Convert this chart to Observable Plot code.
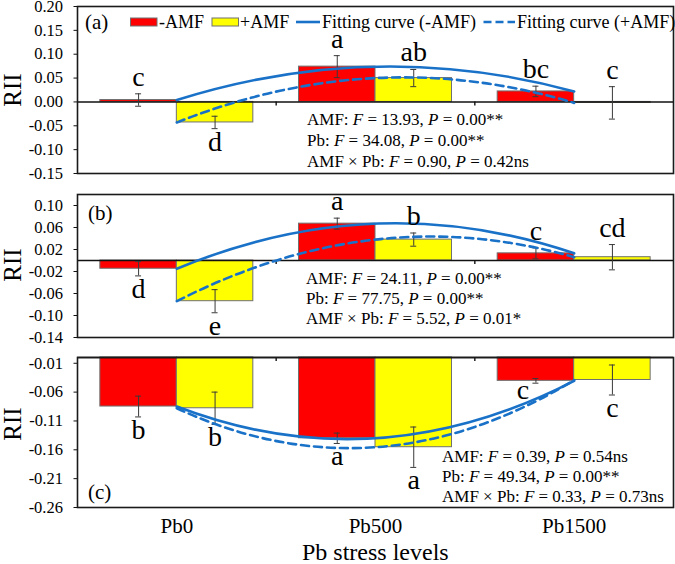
<!DOCTYPE html>
<html><head><meta charset="utf-8">
<script src="https://cdn.jsdelivr.net/npm/d3@7"></script>
<script src="https://cdn.jsdelivr.net/npm/@observablehq/plot@0.6"></script>
<style>
body{margin:0;background:#fff;font-family:"Liberation Serif","Times New Roman",serif;color:#000;}
#wrap{position:relative;width:675px;height:564px;overflow:hidden;background:#fff;}
#wrap svg{position:absolute;left:0;}
.ov{position:absolute;white-space:nowrap;}
.rii{font-size:25px;line-height:25px;transform:translate(-50%,-50%) rotate(-90deg);}
.stats{font-size:17px;}
.leg{font-size:18px;line-height:20px;}
.tag{font-size:21px;line-height:22px;}
</style></head>
<body><div id="wrap"></div>
<script>
// ---------- data ----------
const levels = ["Pb0", "Pb500", "Pb1500"];
const treatments = ["-AMF", "+AMF"];

// Panel (a)
const riiA_noAMF = [0.004, 0.074, 0.022];
const riiA_AMF = [-0.043, 0.050, -0.002];
const errA_noAMF = [0.013, 0.023, 0.011];
const errA_AMF = [0.013, 0.018, 0.034];
const lettersA_noAMF = ["c", "a", "bc"];
const lettersA_AMF = ["d", "ab", "c"];
const ticksA = [-0.15, -0.10, -0.05, 0.00, 0.05, 0.10, 0.15, 0.20];
const statsA = [["AMF", "13.93", "0.00**"], ["Pb", "34.08", "0.00**"], ["AMF × Pb", "0.90", "0.42ns"]];

// Panel (b)
const riiB_noAMF = [-0.015, 0.067, 0.013];
const riiB_AMF = [-0.074, 0.038, 0.006];
const errB_noAMF = [0.013, 0.010, 0.010];
const errB_AMF = [0.021, 0.012, 0.023];
const lettersB_noAMF = ["d", "a", "c"];
const lettersB_AMF = ["e", "b", "cd"];
const ticksB = [-0.14, -0.10, -0.06, -0.02, 0.02, 0.06, 0.10];
const statsB = [["AMF", "24.11", "0.00**"], ["Pb", "77.75", "0.00**"], ["AMF × Pb", "5.52", "0.01*"]];

// Panel (c)
const riiC_noAMF = [-0.085, -0.140, -0.0405];
const riiC_AMF = [-0.088, -0.1555, -0.039];
const errC_noAMF = [0.018, 0.009, 0.004];
const errC_AMF = [0.028, 0.035, 0.026];
const lettersC_noAMF = ["b", "a", "c"];
const lettersC_AMF = ["b", "a", "c"];
const ticksC = [-0.26, -0.21, -0.16, -0.11, -0.06, -0.01];
const statsC = [["AMF", "0.39", "0.54ns"], ["Pb", "49.34", "0.00**"], ["AMF × Pb", "0.33", "0.73ns"]];

const xTitle = "Pb stress levels";
const yTitle = "RII";

// ---------- style ----------
const RED = "#ff0000", YELLOW = "#ffff00", BLUE = "#1a72c8";
const BW = 0.385; // bar width as fraction of a category
const FONT = "Liberation Serif, Times New Roman, serif";

// quadratic fitting curve through three points (parabola via quadratic Bezier)
function curveParabola(context) {
  let pts = [];
  return {
    areaStart() {}, areaEnd() {},
    lineStart() { pts = []; },
    point(x, y) { pts.push([+x, +y]); },
    lineEnd() {
      if (pts.length === 3) {
        const [p0, p1, p2] = pts;
        context.moveTo(p0[0], p0[1]);
        context.quadraticCurveTo(2 * p1[0] - (p0[0] + p2[0]) / 2, 2 * p1[1] - (p0[1] + p2[1]) / 2, p2[0], p2[1]);
      } else if (pts.length) {
        context.moveTo(pts[0][0], pts[0][1]);
        for (const p of pts.slice(1)) context.lineTo(p[0], p[1]);
      }
    }
  };
}

function makePanel(cfg) {
  const rows = [];
  levels.forEach((lv, i) => {
    rows.push({i, t: treatments[0], v: cfg.noAMF[i], e: cfg.errNo[i], L: cfg.lettersNo[i], x1: i - BW, x2: i, c: i - BW / 2, fill: RED});
    rows.push({i, t: treatments[1], v: cfg.AMF[i], e: cfg.errAMF[i], L: cfg.lettersAMF[i], x1: i, x2: i + BW, c: i + BW / 2, fill: YELLOW});
  });
  const shifted = cfg.sideLabel ? rows.filter(d => d.t === cfg.sideLabel.t && d.i === cfg.sideLabel.i) : [];
  const rest = rows.filter(d => !shifted.includes(d));
  const above = rest.filter(d => d.v + d.e > 0);
  const below = rest.filter(d => d.v + d.e <= 0);
  const marks = [
    Plot.rectY(rows, {x1: "x1", x2: "x2", y1: 0, y2: "v", fill: "fill", stroke: "#707070", strokeWidth: 1}),
    Plot.ruleY([0], {stroke: "#111", strokeWidth: 1.4}),
    Plot.ruleX([0.5, 1.5], {x: d => d, y1: 0, y2: 0, insetBottom: -4, stroke: "#111", strokeWidth: 1.4}),
    Plot.ruleX(rows, {x: "c", y1: d => d.v - d.e, y2: d => d.v + d.e, stroke: "#3a3a3a", strokeWidth: 1}),
    Plot.ruleY(rows, {y: d => d.v + d.e, x1: "c", x2: "c", insetLeft: -3, insetRight: -3, stroke: "#3a3a3a", strokeWidth: 1}),
    Plot.ruleY(rows, {y: d => d.v - d.e, x1: "c", x2: "c", insetLeft: -3, insetRight: -3, stroke: "#3a3a3a", strokeWidth: 1}),
    Plot.line(rows.filter(d => d.t === treatments[0]), {x: "i", y: "v", curve: curveParabola, stroke: BLUE, strokeWidth: 2.6}),
    Plot.line(rows.filter(d => d.t === treatments[1]), {x: "i", y: "v", curve: curveParabola, stroke: BLUE, strokeWidth: 2.6, strokeDasharray: "8,5"}),
    Plot.text(above, {x: "c", y: d => d.v + d.e, text: "L", dy: -17, fontSize: 28, fill: "#000", lineAnchor: "middle"}),
    Plot.text(below, {x: "c", y: d => d.v - d.e, text: "L", dy: 13, fontSize: 28, fill: "#000", lineAnchor: "middle"}),
    Plot.text(shifted, {x: "c", y: d => d.v - d.e, text: "L", dx: -13, dy: 7, fontSize: 28, fill: "#000", lineAnchor: "middle"}),
    Plot.axisY({ticks: cfg.ticks, tickFormat: d => d.toFixed(2), tickSize: 3.5, tickPadding: 11, fontSize: 16.5, label: null, stroke: "#111"}),
    Plot.frame({stroke: "#1a1a1a", strokeWidth: 1.6})
  ];
  if (cfg.xAxis) {
    marks.push(Plot.axisX({ticks: [0, 1, 2], tickFormat: i => levels[i], tickSize: 0, tickPadding: 11, fontSize: 21, label: null}));
  }
  const svg = Plot.plot({
    width: 675, height: cfg.height,
    marginLeft: 77, marginRight: 2, marginTop: cfg.mt, marginBottom: cfg.mb,
    style: {fontFamily: FONT, background: "transparent", color: "#000", overflow: "visible"},
    x: {type: "linear", domain: [-0.5, 2.5], axis: cfg.xAxis ? undefined : null},
    y: {domain: cfg.domain},
    marks
  });
  svg.style.top = cfg.top + "px";
  return svg;
}

const wrap = document.getElementById("wrap");
wrap.appendChild(makePanel({top: 0, height: 180, mt: 6, mb: 7, domain: [-0.15, 0.20], ticks: ticksA,
  noAMF: riiA_noAMF, AMF: riiA_AMF, errNo: errA_noAMF, errAMF: errA_AMF, lettersNo: lettersA_noAMF, lettersAMF: lettersA_AMF}));
wrap.appendChild(makePanel({top: 180, height: 165, mt: 14, mb: 8, domain: [-0.14, 0.12], ticks: ticksB,
  noAMF: riiB_noAMF, AMF: riiB_AMF, errNo: errB_noAMF, errAMF: errB_AMF, lettersNo: lettersB_noAMF, lettersAMF: lettersB_AMF}));
wrap.appendChild(makePanel({top: 345, height: 219, mt: 12, mb: 57, domain: [-0.26, 0], ticks: ticksC, xAxis: true,
  sideLabel: {t: treatments[0], i: 2},
  noAMF: riiC_noAMF, AMF: riiC_AMF, errNo: errC_noAMF, errAMF: errC_AMF, lettersNo: lettersC_noAMF, lettersAMF: lettersC_AMF}));

function ov(html, css, cls) {
  const d = document.createElement("div");
  d.className = "ov " + (cls || "");
  d.innerHTML = html;
  Object.assign(d.style, css);
  wrap.appendChild(d);
  return d;
}
// y titles
[90, 265, 424].forEach(y => ov(yTitle, {left: "12px", top: y + "px"}, "rii"));
// panel tags
ov("(a)", {left: "85px", top: "11px"}, "tag");
ov("(b)", {left: "88px", top: "202px"}, "tag");
ov("(c)", {left: "88px", top: "481px"}, "tag");
// stats
function statsHtml(s) {
  return s.map(([k, f, p]) => `${k}: <i>F</i> = ${f}, <i>P</i> = ${p}`).join("<br>");
}
ov(statsHtml(statsA), {left: "307px", top: "109px", lineHeight: "21px"}, "stats");
ov(statsHtml(statsB), {left: "306px", top: "269px", lineHeight: "19.8px"}, "stats");
ov(statsHtml(statsC), {left: "442px", top: "446.5px", lineHeight: "20px"}, "stats");
// x title
ov(xTitle, {left: "302px", top: "540px", fontSize: "24px", lineHeight: "24px"});
// legend
const legSvg = `<svg width="560" height="20" style="position:absolute;left:0;top:0;overflow:visible">
 <rect x="0.5" y="6" width="26.5" height="8" fill="${RED}" stroke="#707070"/>
 <rect x="82" y="6" width="26.5" height="8" fill="${YELLOW}" stroke="#707070"/>
 <line x1="166" x2="190" y1="10" y2="10" stroke="${BLUE}" stroke-width="2.6"/>
 <line x1="353.5" x2="385" y1="10" y2="10" stroke="${BLUE}" stroke-width="2.6" stroke-dasharray="8,4"/>
</svg>`;
ov(legSvg, {left: "130px", top: "12px", width: "560px", height: "20px"});
ov(treatments[0], {left: "159px", top: "12px"}, "leg");
ov(treatments[1], {left: "240px", top: "12px"}, "leg");
ov("Fitting curve (" + treatments[0] + ")", {left: "322px", top: "12px"}, "leg");
ov("Fitting curve (" + treatments[1] + ")", {left: "517px", top: "12px"}, "leg");
</script>
</body></html>
